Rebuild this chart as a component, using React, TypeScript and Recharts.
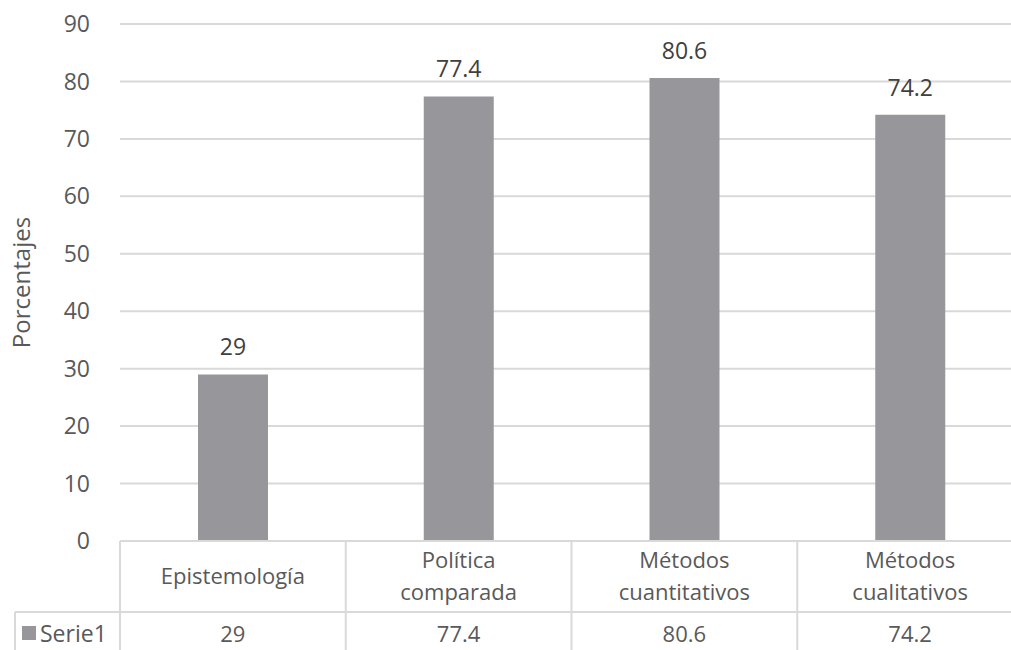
import React from "react";
import { BarChart, Bar, XAxis, YAxis, CartesianGrid, LabelList } from "recharts";

const categories = ["Epistemología", "Política\ncomparada", "Métodos\ncuantitativos", "Métodos\ncualitativos"];
const serie1 = [29, 77.4, 80.6, 74.2];
const yTicks = [0, 10, 20, 30, 40, 50, 60, 70, 80, 90];
const seriesName = "Serie1";

const data = categories.map((name, i) => ({ name, value: serie1[i] }));

const FONT = "'Open Sans', sans-serif";
const GRID = "#d9d9d9";
const TEXT = "#595959";
const BAR = "#97979b";

const CHART_W = 1023;
const CHART_H = 662;
const LEFT = 120;
const BAND = (CHART_W - LEFT) / categories.length;
const ROW1 = 71;
const ROW2 = 50;

const TableTick = (props: any) => {
  const { x, y, payload, index } = props;
  const lines = String(payload.value).split("\n");
  const left = x - BAND / 2;
  const right = x + BAND / 2;
  const mid1 = y + ROW1 / 2 - 2;
  const lh = 32;
  return (
    <g>
      <line x1={right} y1={y} x2={right} y2={y + ROW1 + ROW2} stroke={GRID} strokeWidth={2} />
      {index === 0 && (
        <>
          <line x1={left} y1={y} x2={left} y2={y + ROW1 + ROW2} stroke={GRID} strokeWidth={2} />
          <line x1={15} y1={y + ROW1} x2={CHART_W} y2={y + ROW1} stroke={GRID} strokeWidth={2} />
          <line x1={15} y1={y + ROW1} x2={15} y2={y + ROW1 + ROW2} stroke={GRID} strokeWidth={2} />
          <rect x={22} y={y + ROW1 + 14} width={14} height={14} fill={BAR} />
          <text x={40} y={y + ROW1 + 21} dominantBaseline="central" fill={TEXT} fontSize={23} fontFamily={FONT}>
            {seriesName}
          </text>
        </>
      )}
      <text textAnchor="middle" fill={TEXT} fontSize={22} fontFamily={FONT}>
        {lines.map((l, i) => (
          <tspan key={i} x={x} y={mid1 + (i - (lines.length - 1) / 2) * lh} dominantBaseline="central">
            {l}
          </tspan>
        ))}
      </text>
      <text x={x} y={y + ROW1 + 21} textAnchor="middle" dominantBaseline="central" fill={TEXT} fontSize={22} fontFamily={FONT}>
        {serie1[index]}
      </text>
    </g>
  );
};

export default function App() {
  return (
    <div style={{ position: "fixed", left: 0, top: 0, width: 1011, height: 650, overflow: "hidden", background: "#fff" }}>
      <BarChart
        width={CHART_W}
        height={CHART_H}
        data={data}
        margin={{ top: 24, right: 0, left: 0, bottom: 0 }}
      >
        <CartesianGrid vertical={false} stroke={GRID} strokeWidth={2} />
        <XAxis
          dataKey="name"
          height={CHART_H - 24 - 517}
          tickLine={false}
          tickSize={0}
          tickMargin={0}
          axisLine={{ stroke: GRID, strokeWidth: 2 }}
          interval={0}
          tick={<TableTick />}
        />
        <YAxis
          width={LEFT}
          domain={[0, 90]}
          ticks={yTicks}
          axisLine={false}
          tickLine={false}
          tickMargin={24}
          tick={{ fill: TEXT, fontSize: 23, fontFamily: FONT }}
          label={{
            value: "Porcentajes",
            angle: -90,
            position: "insideLeft",
            dx: 16,
            style: { fill: TEXT, fontSize: 24, fontFamily: FONT, textAnchor: "middle" },
          }}
        />
        <Bar dataKey="value" fill={BAR} barSize={70} isAnimationActive={false}>
          <LabelList dataKey="value" position="top" offset={19} fill="#404040" fontSize={23} fontFamily={FONT} />
        </Bar>
      </BarChart>
    </div>
  );
}
